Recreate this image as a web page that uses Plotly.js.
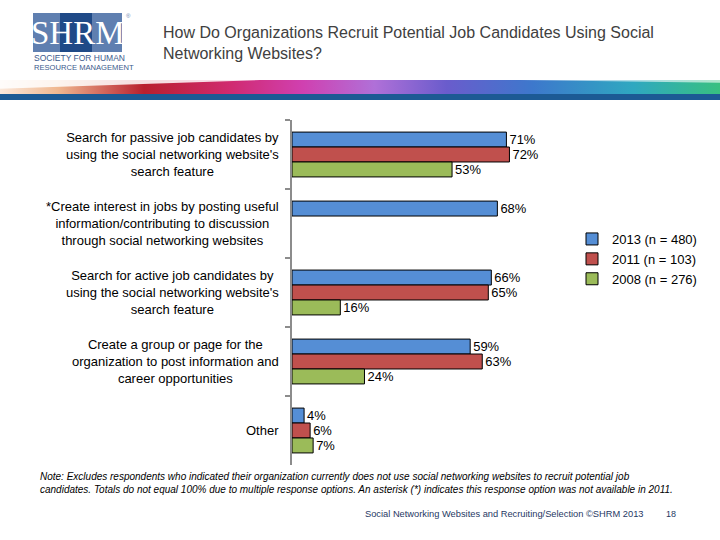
<!DOCTYPE html>
<html>
<head>
<meta charset="utf-8">
<script src="https://cdn.plot.ly/plotly-3.0.1.min.js"></script>
<style>html,body{margin:0;padding:0;background:#fff;}#chart{width:720px;height:540px;}</style>
</head>
<body>
<div id="chart"></div>
<script>
const categories = [
  "Search for passive job candidates by<br>using the social networking website's<br>search feature",
  "*Create interest in jobs by posting useful<br>information/contributing to discussion<br>through social networking websites",
  "Search for active job candidates by<br>using the social networking website's<br>search feature",
  "Create a group or page for the<br>organization to post information and<br>career opportunities",
  "Other"
];
const seriesNames = ["2013 (n = 480)", "2011 (n = 103)", "2008 (n = 276)"];
const values2013 = [71, 68, 66, 59, 4];
const values2011 = [72, null, 65, 63, 6];
const values2008 = [53, null, 16, 24, 7];
const colors = ["#558ED5", "#C0504D", "#9BBB59"];

const titleText = "How Do Organizations Recruit Potential Job Candidates Using Social<br>Networking Websites?";
const noteText = "Note: Excludes respondents who indicated their organization currently does not use social networking websites to recruit potential job<br>candidates. Totals do not equal 100% due to multiple response options. An asterisk (*) indicates this response option was not available in 2011.";
const footerText = "Social Networking Websites and Recruiting/Selection ©SHRM 2013";
const pageNumber = "18";

const FONT = "Liberation Sans, Arial, sans-serif";

// plot area in pixels
const L = 292, R = 594, T = 120, B = 465;
const px = x => (x - L) / (R - L);
const py = y => (B - y) / (B - T);

const allSeries = [values2013, values2011, values2008];
const traces = allSeries.map((vals, i) => ({
  type: "bar",
  orientation: "h",
  name: seriesNames[i],
  y: categories,
  x: vals,
  marker: {color: colors[i], line: {color: "#000", width: 1}},
  text: vals.map(v => v == null ? "" : v + "%"),
  textposition: "outside",
  textfont: {family: FONT, size: 13, color: "#000"},
  cliponaxis: false,
  hoverinfo: "skip"
}));

const annotations = categories.map(c => ({
  xref: "paper", yref: "y", x: 0, y: c, xshift: -11,
  xanchor: "right", yanchor: "middle", align: "center",
  text: c, showarrow: false,
  font: {family: FONT, size: 13, color: "#000"}
}));

annotations.push(
  {xref: "paper", yref: "paper", x: px(38), y: py(469), xanchor: "left", yanchor: "top", align: "left",
   text: "<i>" + noteText + "</i>", showarrow: false, font: {family: FONT, size: 10, color: "#000"}},
  {xref: "paper", yref: "paper", x: px(646), y: py(514), xanchor: "right", yanchor: "middle",
   text: footerText, showarrow: false, font: {family: FONT, size: 9.3, color: "#1F3864"}},
  {xref: "paper", yref: "paper", x: px(678), y: py(514), xanchor: "right", yanchor: "middle",
   text: pageNumber, showarrow: false, font: {family: FONT, size: 9, color: "#1F3864"}},
  // logo text
  {xref: "paper", yref: "paper", x: px(78), y: py(33), xanchor: "center", yanchor: "middle",
   text: "SHRM", showarrow: false, font: {family: "Liberation Serif, serif", size: 33, color: "#fff"}},
  {xref: "paper", yref: "paper", x: px(128), y: py(16), xanchor: "center", yanchor: "middle",
   text: "®", showarrow: false, font: {family: FONT, size: 6, color: "#5F7FB0"}},
  {xref: "paper", yref: "paper", x: px(32), y: py(58), xanchor: "left", yanchor: "middle",
   text: "SOCIETY FOR HUMAN", showarrow: false, font: {family: FONT, size: 8.5, color: "#3B5A8C"}},
  {xref: "paper", yref: "paper", x: px(32), y: py(67), xanchor: "left", yanchor: "middle",
   text: "RESOURCE MANAGEMENT", showarrow: false, font: {family: FONT, size: 7.6, color: "#3B5A8C"}}
);

const bandSvg = '<svg xmlns="http://www.w3.org/2000/svg" width="720" height="16" preserveAspectRatio="none">' +
  '<defs><linearGradient id="g" x1="0" x2="1" y1="0" y2="0">' +
  '<stop offset="0" stop-color="#fbe9dc"/><stop offset="0.08" stop-color="#f0b890"/>' +
  '<stop offset="0.2" stop-color="#b8202e"/><stop offset="0.32" stop-color="#d02a70"/>' +
  '<stop offset="0.42" stop-color="#d040b0"/><stop offset="0.52" stop-color="#b070d8"/>' +
  '<stop offset="0.62" stop-color="#6a5ccc"/><stop offset="0.74" stop-color="#3d78cc"/>' +
  '<stop offset="0.88" stop-color="#2fa8c0"/><stop offset="1" stop-color="#38c080"/>' +
  '</linearGradient></defs>' +
  '<rect x="0" y="0" width="720" height="16" fill="url(#g)"/>' +
  '<polygon points="0,0 260,0 0,10" fill="#ffffff" opacity="0.85"/>' +
  '<polygon points="520,0 720,0 720,3" fill="#ffffff" opacity="0.6"/>' +
  '</svg>';

const layout = {
  width: 720, height: 540,
  margin: {l: L, r: 720 - R, t: T, b: 540 - B, pad: 0, autoexpand: false},
  paper_bgcolor: "#fff", plot_bgcolor: "rgba(0,0,0,0)",
  barmode: "group", bargap: 0.35, bargroupgap: 0,
  showlegend: true,
  legend: {x: px(572), y: py(224), xanchor: "left", yanchor: "top", xref: "paper", yref: "paper",
           font: {family: FONT, size: 13, color: "#000"}, itemwidth: 30, tracegroupgap: 0,
           bgcolor: "rgba(0,0,0,0)"},
  title: {text: titleText, xref: "container", yref: "container", x: 163 / 720, xanchor: "left",
          y: 1 - 38 / 540, yanchor: "top", font: {family: FONT, size: 16, color: "#404040"}},
  xaxis: {range: [0, 100], showgrid: false, zeroline: false, showticklabels: false, showline: false, ticks: "", fixedrange: true},
  yaxis: {autorange: "reversed", showgrid: false, zeroline: false, showticklabels: false,
          showline: true, linecolor: "#8c8c8c", linewidth: 2, ticks: "outside", ticklen: 5,
          tickcolor: "#8c8c8c", tickwidth: 2, tickson: "boundaries", fixedrange: true},
  annotations: annotations,
  shapes: [
    {type: "rect", xref: "paper", yref: "paper", x0: px(33), x1: px(122), y0: py(13), y1: py(52),
     fillcolor: "#5F7FB0", line: {width: 0}, layer: "below"},
    {type: "rect", xref: "paper", yref: "paper", x0: px(60), x1: px(92), y0: py(13), y1: py(52),
     fillcolor: "#1F4A87", line: {width: 0}, layer: "below"},
    {type: "rect", xref: "paper", yref: "paper", x0: px(0), x1: px(720), y0: py(94), y1: py(100),
     fillcolor: "#1C5A94", line: {width: 0}, layer: "below"}
  ],
  images: [
    {source: "data:image/svg+xml;charset=utf-8," + encodeURIComponent(bandSvg),
     xref: "paper", yref: "paper", x: px(0), y: py(80), sizex: 720 / (R - L), sizey: 14 / (B - T),
     xanchor: "left", yanchor: "top", sizing: "stretch", layer: "below"}
  ]
};

Plotly.newPlot("chart", traces, layout, {displayModeBar: false, staticPlot: true});
</script>
</body>
</html>
